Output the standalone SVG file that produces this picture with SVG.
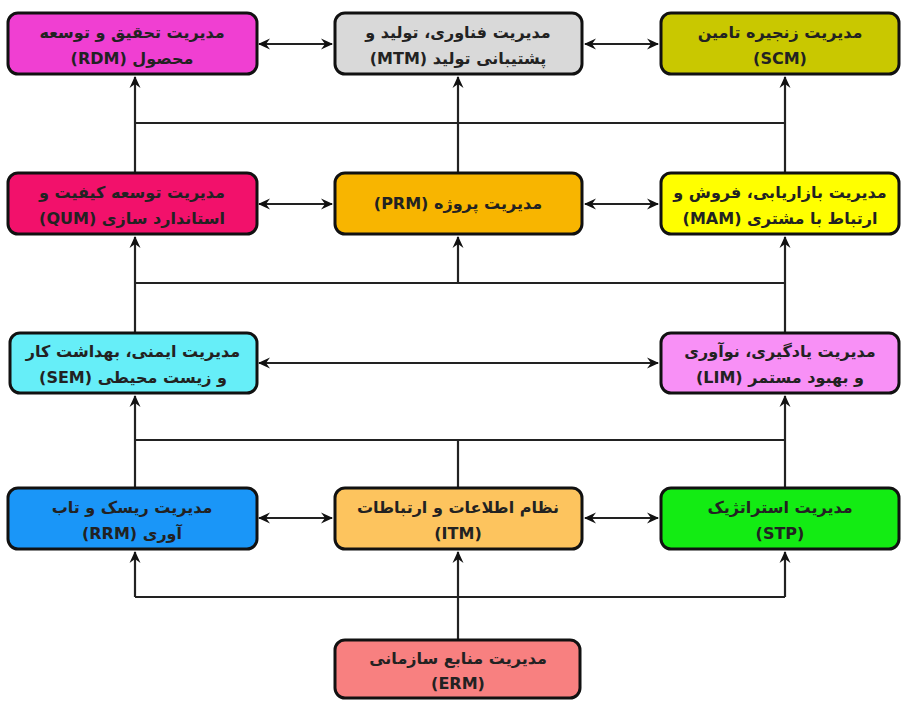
<svg xmlns="http://www.w3.org/2000/svg" width="904" height="701" viewBox="0 0 904 701">
<defs>
<marker id="ah" viewBox="0 0 12 12" refX="11" refY="6" markerWidth="12" markerHeight="12" markerUnits="userSpaceOnUse" orient="auto-start-reverse">
<path d="M0,0.5 L12,6 L0,11.5 L4,6 z" fill="#111"/>
</marker>
</defs>
<style>
.box{stroke:#111;stroke-width:3}
.t{font-family:"DejaVu Sans","Noto Sans",sans-serif;font-size:16px;font-weight:bold;fill:#222;text-anchor:middle;direction:rtl;unicode-bidi:embed}
.c{fill:none;stroke:#222;stroke-width:2.2}
.a{marker-end:url(#ah)}
.d{marker-start:url(#ah);marker-end:url(#ah)}
</style>
<rect width="904" height="701" fill="#fff"/>
<g id="connectors">
<line class="c d" x1="259" y1="44" x2="332" y2="44"/>
<line class="c d" x1="585" y1="44" x2="658" y2="44"/>
<line class="c d" x1="259" y1="204" x2="332" y2="204"/>
<line class="c d" x1="585" y1="204" x2="658" y2="204"/>
<line class="c d" x1="259" y1="363" x2="658" y2="363"/>
<line class="c d" x1="259" y1="518" x2="332" y2="518"/>
<line class="c d" x1="585" y1="518" x2="658" y2="518"/>
<line class="c a" x1="458" y1="640" x2="458" y2="552"/>
<line class="c" x1="135" y1="597" x2="785" y2="597"/>
<line class="c a" x1="135" y1="597" x2="135" y2="552"/>
<line class="c a" x1="785" y1="597" x2="785" y2="552"/>
<line class="c" x1="458" y1="488" x2="458" y2="440"/>
<line class="c" x1="135" y1="440" x2="785" y2="440"/>
<line class="c a" x1="135" y1="488" x2="135" y2="396"/>
<line class="c a" x1="785" y1="488" x2="785" y2="396"/>
<line class="c a" x1="135" y1="333" x2="135" y2="237"/>
<line class="c a" x1="785" y1="333" x2="785" y2="237"/>
<line class="c" x1="135" y1="283" x2="785" y2="283"/>
<line class="c a" x1="458" y1="283" x2="458" y2="237"/>
<line class="c a" x1="135" y1="173" x2="135" y2="77"/>
<line class="c a" x1="458" y1="173" x2="458" y2="77"/>
<line class="c a" x1="785" y1="173" x2="785" y2="77"/>
<line class="c" x1="135" y1="123" x2="785" y2="123"/>
</g>
<g id="RDM"><rect class="box" x="8" y="13" width="249" height="61" rx="10" fill="#f03fd2"/>
<text class="t" x="132" y="38">مدیریت تحقیق و توسعه</text><text class="t" x="132" y="64">محصول (RDM)</text></g>
<g id="MTM"><rect class="box" x="335" y="13" width="247" height="61" rx="10" fill="#d9d9d9"/>
<text class="t" x="458" y="38">مدیریت فناوری، تولید و</text><text class="t" x="458" y="64">پشتیبانی تولید (MTM)</text></g>
<g id="SCM"><rect class="box" x="661" y="13" width="238" height="61" rx="10" fill="#c9c800"/>
<text class="t" x="780" y="38">مدیریت زنجیره تامین</text><text class="t" x="780" y="64">(SCM)</text></g>
<g id="QUM"><rect class="box" x="8" y="173" width="249" height="61" rx="10" fill="#f2116b"/>
<text class="t" x="132" y="198">مدیریت توسعه کیفیت و</text><text class="t" x="132" y="224">استاندارد سازی (QUM)</text></g>
<g id="PRM"><rect class="box" x="335" y="173" width="247" height="61" rx="10" fill="#f8b500"/>
<text class="t" x="458" y="209">مدیریت پروژه (PRM)</text></g>
<g id="MAM"><rect class="box" x="661" y="173" width="238" height="61" rx="10" fill="#ffff00"/>
<text class="t" x="780" y="198">مدیریت بازاریابی، فروش و</text><text class="t" x="780" y="224">ارتباط با مشتری (MAM)</text></g>
<g id="SEM"><rect class="box" x="10" y="333" width="247" height="60" rx="10" fill="#66eef8"/>
<text class="t" x="133" y="357">مدیریت ایمنی، بهداشت کار</text><text class="t" x="133" y="383">و زیست محیطی (SEM)</text></g>
<g id="LIM"><rect class="box" x="661" y="333" width="238" height="60" rx="10" fill="#f890f6"/>
<text class="t" x="780" y="357">مدیریت یادگیری، نوآوری</text><text class="t" x="780" y="383">و بهبود مستمر (LIM)</text></g>
<g id="RRM"><rect class="box" x="8" y="488" width="249" height="61" rx="10" fill="#1a96f8"/>
<text class="t" x="132" y="513">مدیریت ریسک و تاب</text><text class="t" x="132" y="539">آوری (RRM)</text></g>
<g id="ITM"><rect class="box" x="335" y="488" width="247" height="61" rx="10" fill="#fdc45e"/>
<text class="t" x="458" y="513">نظام اطلاعات و ارتباطات</text><text class="t" x="458" y="539">(ITM)</text></g>
<g id="STP"><rect class="box" x="661" y="488" width="238" height="61" rx="10" fill="#13ec13"/>
<text class="t" x="780" y="513">مدیریت استراتژیک</text><text class="t" x="780" y="539">(STP)</text></g>
<g id="ERM"><rect class="box" x="335" y="640" width="245" height="58" rx="10" fill="#f88080"/>
<text class="t" x="458" y="664">مدیریت منابع سازمانی</text><text class="t" x="458" y="689">(ERM)</text></g>
</svg>
